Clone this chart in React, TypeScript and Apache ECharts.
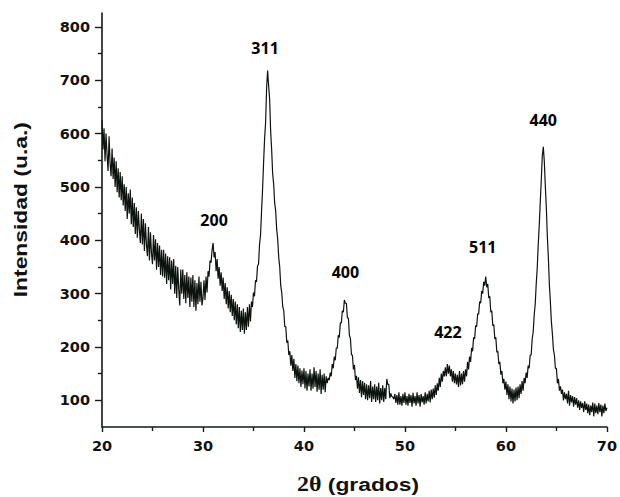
import React, { useEffect, useRef } from "react";
import * as echarts from "echarts";

// 2θ grid: 20.0 → 70.0 in 0.1° steps
const thetaStart = 20;
const thetaStep = 0.1;

// Intensity (u.a.), one value per 0.1° (noise included)
const intensity: number[] = [
  625, 570, 610, 548, 600, 560, 530, 595, 545, 520, // 20
  572, 515, 555, 500, 548, 490, 535, 480, 528, 475, // 21
  520, 465, 505, 455, 500, 440, 488, 450, 495, 430, // 22
  480, 425, 470, 412, 462, 405, 455, 420, 395, 450, // 23
  392, 440, 380, 432, 392, 370, 425, 362, 415, 375, // 24
  355, 410, 362, 402, 345, 395, 350, 390, 335, 382, // 25
  332, 382, 330, 375, 318, 370, 325, 368, 308, 362, // 26
  318, 365, 300, 352, 292, 350, 308, 278, 345, 300, // 27
  345, 290, 335, 282, 340, 292, 332, 275, 330, 285, // 28
  335, 275, 325, 268, 320, 280, 332, 285, 322, 278, // 29
  292, 325, 288, 332, 302, 342, 332, 362, 358, 382, // 30
  395, 368, 378, 342, 365, 328, 350, 315, 340, 305, // 31
  330, 290, 320, 280, 312, 272, 305, 265, 298, 258, // 32
  290, 250, 285, 242, 280, 235, 275, 228, 268, 232, // 33
  272, 225, 265, 232, 275, 238, 280, 248, 285, 275, // 34
  302, 295, 325, 322, 352, 355, 392, 410, 455, 495, // 35
  545, 590, 620, 685, 718, 690, 665, 605, 570, 525, // 36
  505, 470, 455, 420, 402, 368, 350, 315, 302, 275, // 37
  268, 238, 238, 208, 212, 185, 192, 165, 185, 155, // 38
  178, 142, 168, 136, 165, 132, 160, 125, 156, 130, // 39
  160, 122, 155, 118, 150, 126, 158, 118, 150, 122, // 40
  162, 125, 155, 116, 150, 120, 158, 112, 148, 120, // 41
  150, 115, 145, 132, 142, 138, 152, 145, 168, 160, // 42
  182, 175, 198, 198, 222, 218, 245, 245, 268, 265, // 43
  288, 282, 282, 255, 254, 222, 216, 186, 184, 158, // 44
  166, 138, 146, 122, 143, 114, 138, 106, 136, 110, // 45
  133, 102, 130, 100, 128, 104, 136, 97, 126, 102, // 46
  130, 97, 126, 100, 133, 94, 123, 100, 128, 97, // 47
  123, 102, 140, 130, 130, 104, 113, 107, 106, 102, // 48
  112, 95, 110, 92, 115, 92, 108, 90, 112, 95, // 49
  115, 92, 108, 90, 112, 95, 110, 88, 114, 94, // 50
  108, 90, 115, 94, 110, 88, 112, 96, 108, 92, // 51
  115, 94, 112, 98, 118, 96, 120, 102, 122, 105, // 52
  128, 110, 132, 118, 142, 125, 150, 135, 155, 145, // 53
  162, 145, 168, 150, 165, 145, 158, 135, 155, 132, // 54
  150, 130, 148, 125, 155, 128, 150, 130, 155, 135, // 55
  158, 145, 172, 158, 182, 172, 198, 192, 218, 215, // 56
  240, 238, 262, 262, 285, 282, 305, 300, 322, 315, // 57
  332, 312, 318, 292, 295, 265, 268, 240, 242, 215, // 58
  218, 190, 192, 168, 172, 148, 155, 132, 140, 120, // 59
  135, 110, 130, 102, 126, 98, 122, 94, 120, 98, // 60
  124, 100, 126, 104, 130, 112, 136, 118, 142, 132, // 61
  152, 142, 165, 160, 185, 185, 215, 228, 260, 280, // 62
  318, 348, 392, 428, 472, 512, 558, 575, 548, 502, // 63
  462, 408, 368, 318, 285, 248, 225, 196, 185, 160, // 64
  160, 132, 140, 118, 126, 112, 120, 100, 115, 102, // 65
  112, 94, 118, 90, 110, 96, 108, 88, 106, 92, // 66
  104, 86, 100, 82, 98, 86, 95, 78, 98, 82, // 67
  94, 76, 92, 72, 90, 78, 96, 70, 94, 76, // 68
  90, 74, 95, 78, 92, 70, 90, 76, 94, 80, // 69
  86, // 70
];

// Miller-index labels of the peaks
const peakNames = ["311", "200", "400", "422", "511", "440"];
const peakTheta = [36.15, 31.1, 44.1, 54.25, 57.7, 63.7];
const peakLabelY = [761, 438, 341, 228, 387, 626];

const xTicks = [20, 30, 40, 50, 60, 70];
const yMajorTicks = [100, 200, 300, 400, 500, 600, 700, 800];
const yMinorTicks = [150, 250, 350, 450, 550, 650, 750];

export default function App() {
  const ref = useRef<HTMLDivElement>(null);

  useEffect(() => {
    if (!ref.current) return;
    const chart = echarts.init(ref.current, null, { renderer: "svg" });
    const lineData = intensity.map((v, i) => [
      +(thetaStart + i * thetaStep).toFixed(1),
      v,
    ]);
    const peakData = peakNames.map((n, i) => ({
      name: n,
      value: [peakTheta[i], peakLabelY[i]],
    }));
    const axisColor = "#151a15";
    const labelFont = {
      fontFamily: "DejaVu Sans, sans-serif",
      fontWeight: "bold" as const,
      fontSize: 14.5,
      color: "#111",
    };

    chart.setOption({
      animation: false,
      backgroundColor: "#ffffff",
      grid: { left: 102, right: 10, top: 13, bottom: 70, containLabel: false },
      xAxis: {
        type: "value",
        min: 20,
        max: 70,
        interval: 10,
        axisLine: { show: true, onZero: false, lineStyle: { color: axisColor, width: 1.6 } },
        axisTick: { show: true, inside: false, length: 5, lineStyle: { color: axisColor, width: 1.4 } },
        minorTick: { show: true, splitNumber: 2, length: 4, lineStyle: { color: axisColor, width: 1.4 } },
        splitLine: { show: false },
        axisLabel: { ...labelFont, margin: 11, customValues: xTicks },
      },
      yAxis: [
        {
          type: "value",
          min: 50,
          max: 826,
          axisLine: { show: true, onZero: false, lineStyle: { color: axisColor, width: 1.6 } },
          axisTick: {
            show: true,
            inside: false,
            length: 7,
            customValues: yMajorTicks,
            lineStyle: { color: axisColor, width: 1.4 },
          },
          splitLine: { show: false },
          axisLabel: { ...labelFont, margin: 12, customValues: yMajorTicks },
        },
        {
          type: "value",
          min: 50,
          max: 826,
          position: "left",
          axisLine: { show: false },
          axisTick: {
            show: true,
            inside: false,
            length: 4,
            customValues: yMinorTicks,
            lineStyle: { color: axisColor, width: 1.4 },
          },
          splitLine: { show: false },
          axisLabel: { show: false },
        },
      ],
      series: [
        {
          type: "line",
          data: lineData,
          showSymbol: false,
          symbol: "none",
          lineStyle: { color: "#0d140f", width: 1.2 },
          z: 3,
        },
        {
          type: "scatter",
          data: peakData,
          symbolSize: 0,
          itemStyle: { opacity: 1 },
          label: {
            show: true,
            position: "inside",
            formatter: "{b}",
            fontFamily: "Open Sans, Liberation Sans, sans-serif",
            fontWeight: "bold",
            fontSize: 16,
            color: "#000",
            opacity: 1,
            textBorderWidth: 0,
          },
          z: 4,
        },
      ],
      graphic: [
        {
          type: "text",
          left: 11,
          top: 122,
          rotation: Math.PI / 2,
          scaleX: 1.27,
          style: {
            text: "Intensidad (u.a.)",
            fontFamily: "Liberation Sans, Arial, sans-serif",
            fontWeight: "bold",
            fontSize: 18,
            fill: "#111",
          },
        },
        {
          type: "text",
          left: 297,
          top: 474,
          scaleX: 1.2,
          style: {
            text: "{s|2θ}{n| (grados)}",
            rich: {
              s: {
                fontFamily: "Liberation Serif, DejaVu Serif, serif",
                fontWeight: "bold",
                fontSize: 20,
                fill: "#111",
              },
              n: {
                fontFamily: "Liberation Sans, Arial, sans-serif",
                fontWeight: "bold",
                fontSize: 19,
                fill: "#111",
              },
            },
          },
        },
      ],
    });
    return () => chart.dispose();
  }, []);

  return (
    <div
      ref={ref}
      style={{ position: "fixed", left: 0, top: 0, width: 620, height: 497, background: "#fff" }}
    />
  );
}
